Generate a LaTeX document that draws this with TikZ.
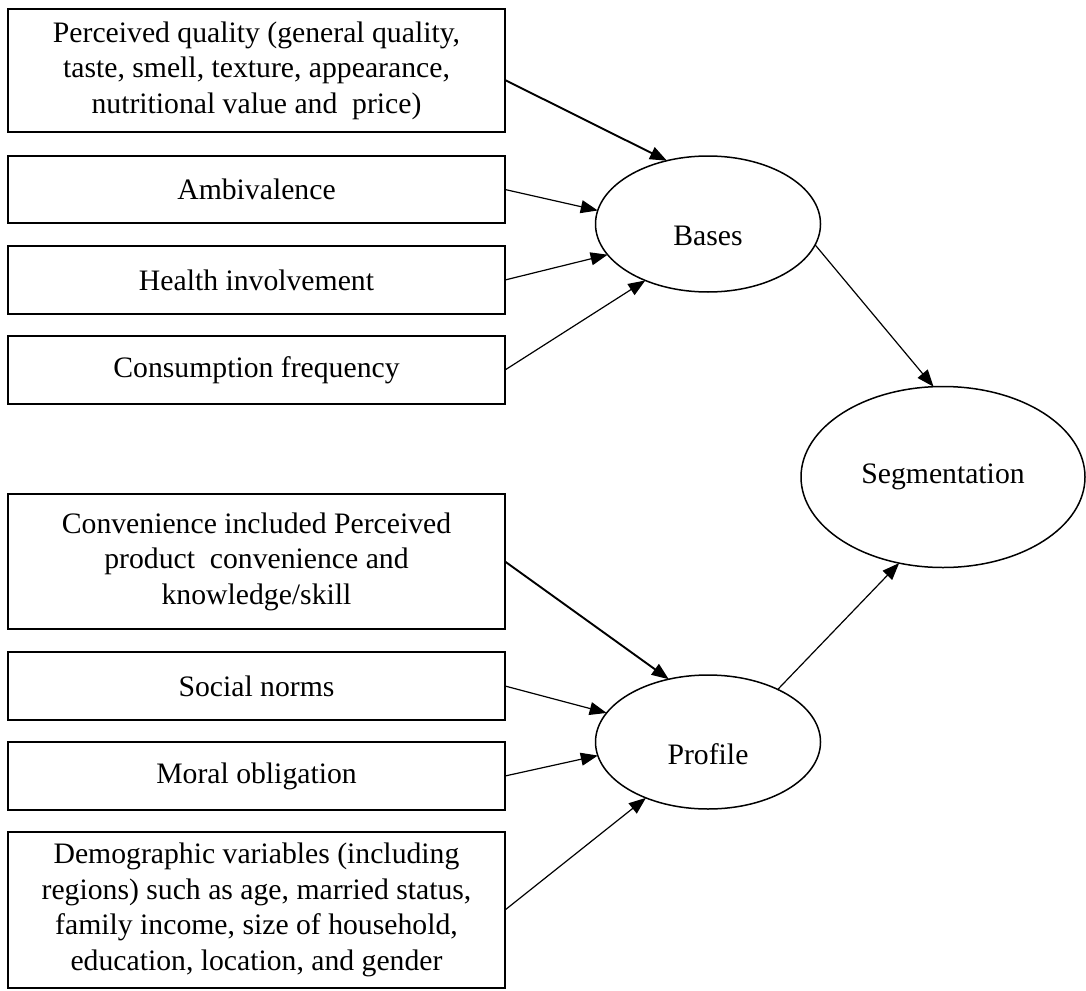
\documentclass[tikz,border=0pt]{standalone}
\usepackage{fontspec}
\setmainfont{Liberation Serif}
\usetikzlibrary{shapes.geometric,arrows.meta}
\begin{document}
\begin{tikzpicture}[x=0.5pt,y=-0.5pt,
  font=\fontsize{14.85}{17.8}\selectfont,
  factor/.style={draw,line width=0.8pt,rectangle,minimum width=248.5pt,inner sep=0pt,outer sep=0pt,align=center},
  latent/.style={draw,line width=0.75pt,ellipse,inner sep=0pt,outer sep=0pt},
  link/.style={line width=0.6pt,-{Triangle[length=8.5pt,width=6.5pt]}},
  boldlink/.style={link,line width=0.95pt}]
\useasboundingbox (0,0) rectangle (1086,990);
\node[factor,minimum height=61.5pt] (b1) at (256.5,70.5) {Perceived quality (general quality,\\ taste, smell, texture, appearance,\\ nutritional value and\ \ price)};
\node[factor,minimum height=33.5pt] (b2) at (256.5,189.5) {Ambivalence};
\node[factor,minimum height=34pt] (b3) at (256.5,280) {Health involvement};
\node[factor,minimum height=34pt] (b4) at (256.5,370) {Consumption frequency};
\node[factor,minimum height=67.5pt] (b5) at (256.5,561.5) {Convenience included Perceived\\ product\ \ convenience and\\ knowledge/skill};
\node[factor,minimum height=34pt] (b6) at (256.5,686) {Social norms};
\node[factor,minimum height=34pt] (b7) at (256.5,776) {Moral obligation};
\node[factor,minimum height=78pt] (b8) at (256.5,910) {Demographic variables (including\\ regions) such as age, married status,\\ family income, size of household,\\ education, location, and gender};
\node[latent,minimum width=112.5pt,minimum height=68pt] (bases) at (708,224) {\raisebox{-6pt}[\height][\depth]{Bases}};
\node[latent,minimum width=112.5pt,minimum height=67pt] (prof) at (708,742) {\raisebox{-6pt}[\height][\depth]{Profile}};
\node[latent,minimum width=142pt,minimum height=90.5pt] (seg) at (943,477) {Segmentation};
\draw[boldlink] ([yshift=-4.75pt]b1.east) -- (bases.123);
\draw[link] (b2.east) -- (bases.173);
\draw[link] (b3.east) -- (bases.197);
\draw[link] (b4.east) -- (bases.222);
\draw[link] (bases.349) -- (seg.96);
\draw[boldlink] (b5.east) -- (prof.122);
\draw[link] (b6.east) -- (prof.164);
\draw[link] (b7.east) -- (prof.187);
\draw[link] (b8.east) -- (prof.222);
\draw[link] (prof.37) -- (seg.243);
\end{tikzpicture}
\end{document}
